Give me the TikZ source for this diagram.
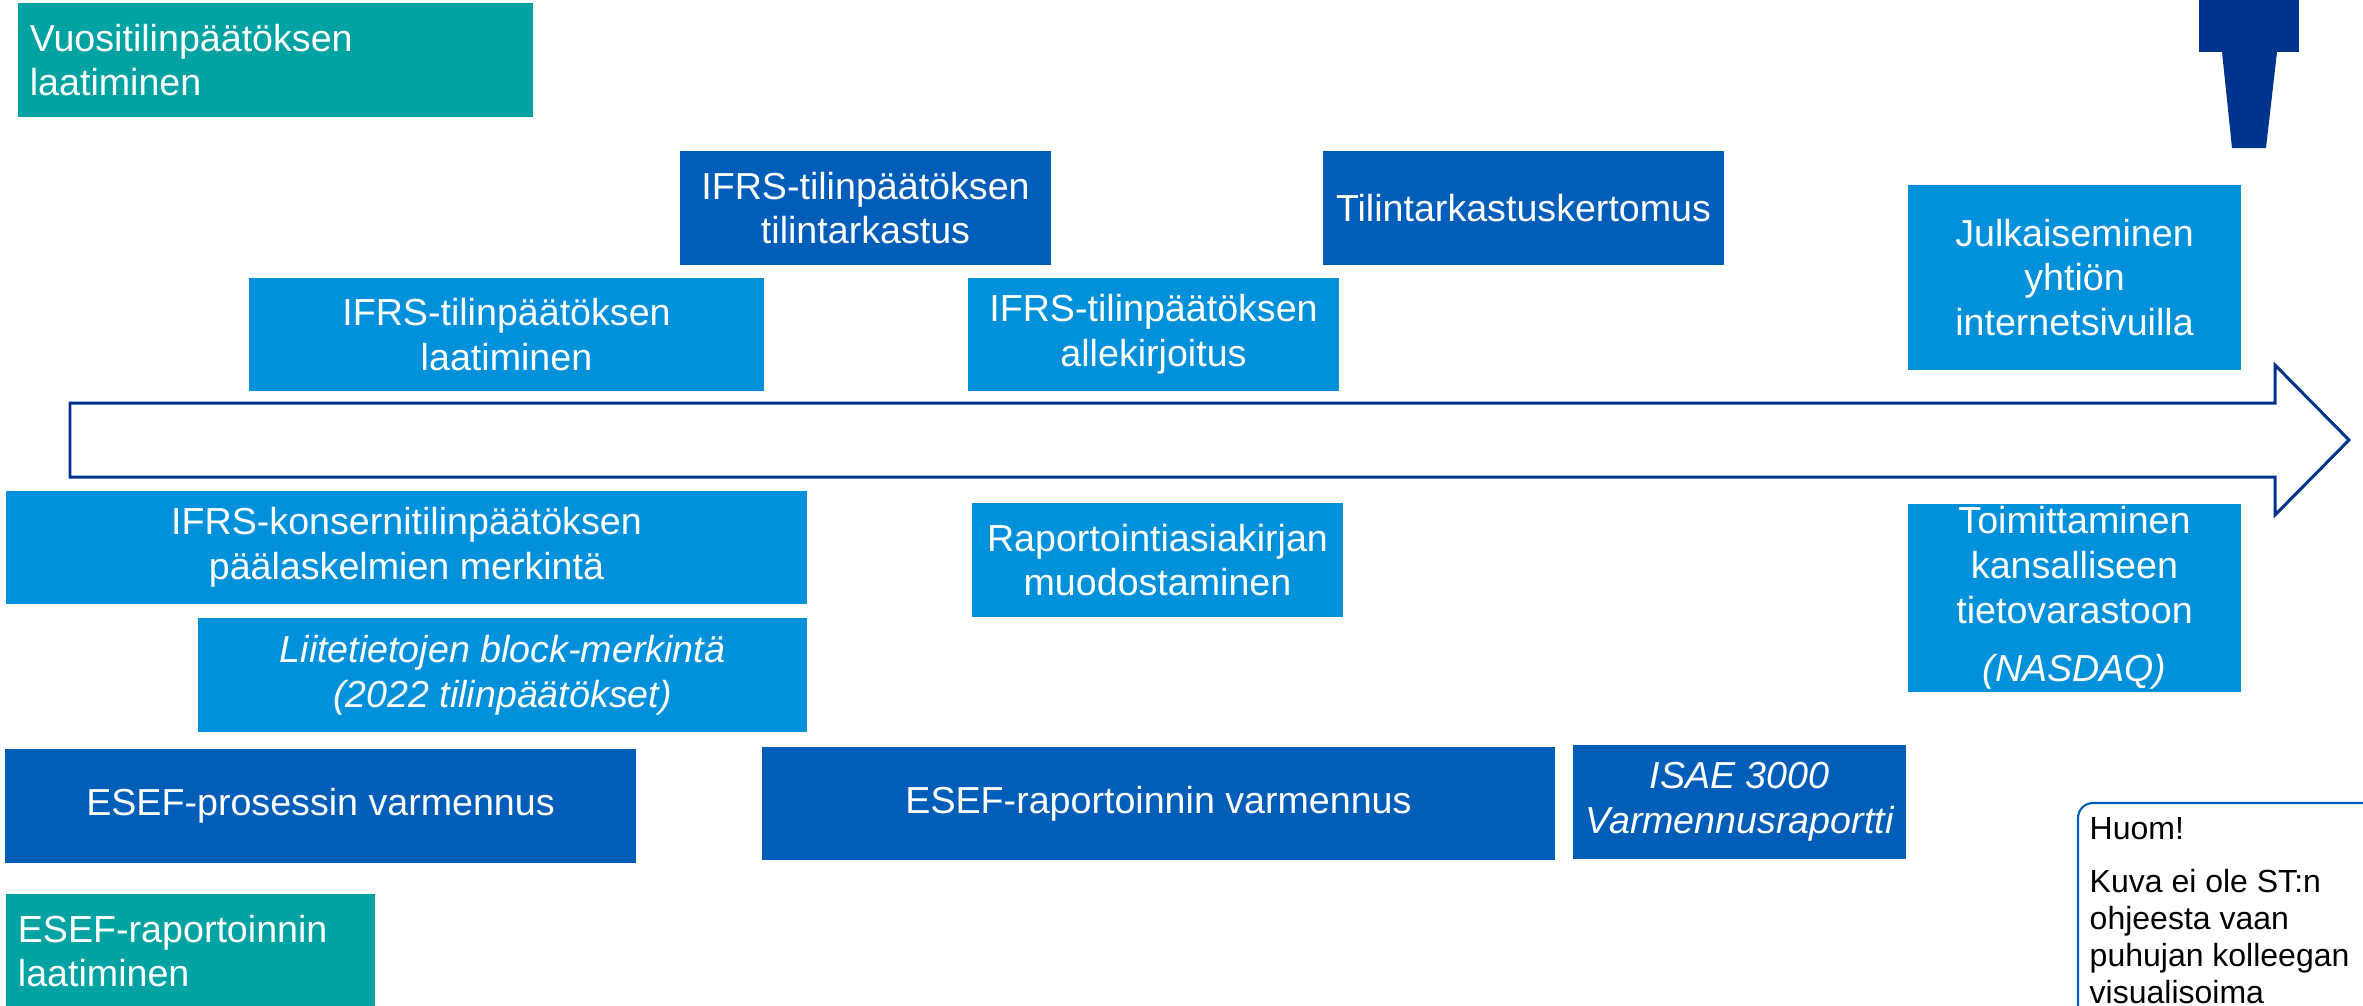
\documentclass[tikz,border=0pt]{standalone}
\usepackage{fontspec}
\setmainfont{Liberation Sans}
\definecolor{kpmgnavy}{HTML}{00338D}
\definecolor{kpmgblue}{HTML}{005EB8}
\definecolor{kpmglight}{HTML}{0091DA}
\definecolor{kpmgteal}{HTML}{00A3A1}

\begin{document}
\begin{tikzpicture}[x=0.01cm,y=-0.01cm,
	phasebox/.style={inner sep=0pt,text=white,align=center,font=\fontsize{10.7}{12.7}\selectfont},
	lightbox/.style={phasebox,fill=kpmglight},
	darkbox/.style={phasebox,fill=kpmgblue},
	tealbox/.style={phasebox,fill=kpmgteal,align=left,inner xsep=0.12cm},
	italictext/.style={font=\fontsize{10.7}{12.7}\selectfont\itshape}]
	\useasboundingbox (0,0) rectangle (2363,1005);
	\clip (0,0) rectangle (2363,1005);
	
	% aikajana
	\draw[kpmgnavy,line width=0.85pt,fill=white]
	(70,403) -- (2275,403) -- (2275,365) -- (2349,440) -- (2275,515) -- (2275,477) -- (70,477) -- cycle;
	
	% merkki oikeassa yläkulmassa
	\fill[kpmgnavy] (2199,-10) rectangle (2299,52);
	\fill[kpmgnavy] (2222,52) -- (2277,52) -- (2266,148) -- (2232,148) -- cycle;
	
	\node (vuosi)[tealbox,text width=4.91cm,minimum height=1.14cm] at (275.5,60) {Vuositilinpäätöksen\\laatiminen};
	\node (tarkastus)[darkbox,minimum width=3.71cm,minimum height=1.14cm] at (865.5,208) {IFRS-tilinpäätöksen\\tilintarkastus};
	\node (kertomus)[darkbox,minimum width=4.01cm,minimum height=1.14cm] at (1523.5,208) {Tilintarkastuskertomus};
	\node (laatiminen)[lightbox,minimum width=5.15cm,minimum height=1.13cm] at (506.5,334.5) {IFRS-tilinpäätöksen\\laatiminen};
	\node (allekirjoitus)[lightbox,minimum width=3.71cm,minimum height=1.13cm] at (1153.5,334.5) {IFRS-tilinpäätöksen\\allekirjoitus};
	\node (julkaisu)[lightbox,minimum width=3.33cm,minimum height=1.85cm] at (2074.5,277.5) {Julkaiseminen\\yhtiön\\internetsivuilla};
	
	\node (konserni)[lightbox,minimum width=8.01cm,minimum height=1.13cm] at (406.5,547.5) {IFRS-konsernitilinpäätöksen\\päälaskelmien merkintä};
	\node (raportointi)[lightbox,minimum width=3.71cm,minimum height=1.14cm] at (1157.5,560) {Raportointiasiakirjan\\muodostaminen};
	\node (toimitus)[lightbox,minimum width=3.33cm,minimum height=1.88cm] at (2074.5,598) {Toimittaminen\\kansalliseen\\tietovarastoon\\[4pt]\itshape (NASDAQ)};
	\node (liite)[lightbox,italictext,minimum width=6.09cm,minimum height=1.14cm] at (502.5,675) {Liitetietojen block-merkintä\\(2022 tilinpäätökset)};
	
	\node (esefproc)[darkbox,minimum width=6.31cm,minimum height=1.14cm] at (320.5,806) {ESEF-prosessin varmennus};
	\node (esefvarm)[darkbox,minimum width=7.93cm,minimum height=1.13cm] at (1158.5,803.5) {ESEF-raportoinnin varmennus};
	\node (isae)[darkbox,italictext,minimum width=3.33cm,minimum height=1.14cm] at (1739.5,802) {ISAE 3000\\Varmennusraportti};
	\node (esefraport)[tealbox,text width=3.45cm,minimum height=1.14cm] at (190.5,951) {ESEF-raportoinnin\\laatiminen};
	
	% huomautus
	\draw[kpmgblue,line width=0.6pt,rounded corners=0.15cm] (2078,803) rectangle (2450,1100);
	\node (huom)[anchor=north west,inner sep=0pt,align=left,font=\fontsize{9.1}{10.5}\selectfont] at (2089,817) {Huom!\\[4.5pt]Kuva ei ole ST:n\\ohjeesta vaan\\puhujan kolleegan\\visualisoima};
\end{tikzpicture}
\end{document}
